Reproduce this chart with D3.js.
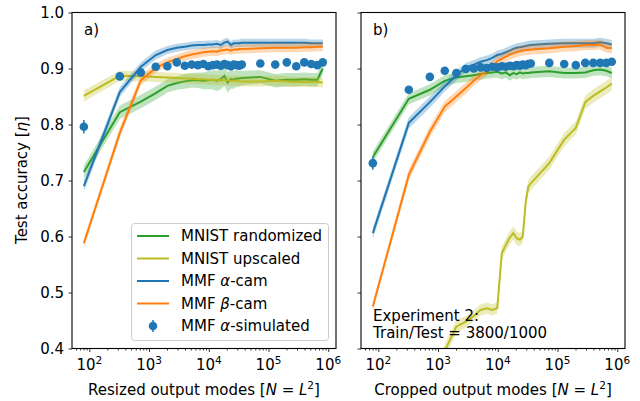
<!DOCTYPE html>
<html><head><meta charset="utf-8">
<script src="https://cdn.jsdelivr.net/npm/d3@7"></script>
<style>body{margin:0;background:#fff} text{font-family:"DejaVu Sans",sans-serif;fill:#000}</style>
</head><body><svg id="c" width="640" height="401"></svg>
<script>
// ---- data ----
const Lside = [9,18,27,36,45,54,63,72,81,90,99,108,117,126,135,144,153,162,171,180,189,270,360,450,540,630,720,810,900];
const modes = Lside.map(l => l * l);
const seriesNames = ["MNIST randomized", "MNIST upscaled", "MMF α-cam", "MMF β-cam", "MMF α-simulated"];

// Panel a (resized)
const aGreen  = [0.715,0.822,0.841,0.856,0.869,0.874,0.877,0.879,0.879,0.878,0.879,0.880,0.878,0.881,0.887,0.875,0.881,0.880,0.882,0.882,0.883,0.885,0.878,0.880,0.880,0.881,0.880,0.880,0.900];
const aGreenS = [0.012,0.012,0.012,0.012,0.012,0.012,0.013,0.013,0.014,0.015,0.016,0.017,0.018,0.018,0.018,0.018,0.017,0.016,0.015,0.014,0.013,0.012,0.012,0.012,0.012,0.012,0.012,0.012,0.010];
const aYellow  = [0.851,0.887,0.886,0.885,0.884,0.883,0.882,0.882,0.881,0.881,0.880,0.880,0.879,0.879,0.879,0.879,0.878,0.878,0.878,0.877,0.877,0.877,0.878,0.877,0.876,0.876,0.876,0.876,0.875];
const aYellowS = [0.010,0.009,0.009,0.009,0.009,0.009,0.009,0.009,0.009,0.009,0.009,0.009,0.009,0.009,0.009,0.009,0.009,0.009,0.009,0.009,0.009,0.009,0.009,0.009,0.009,0.009,0.009,0.009,0.009];
const aBlue  = [0.690,0.858,0.903,0.924,0.933,0.937,0.939,0.941,0.942,0.942,0.943,0.943,0.944,0.942,0.946,0.948,0.942,0.945,0.945,0.945,0.946,0.946,0.946,0.946,0.946,0.946,0.945,0.945,0.945];
const aBlueS = [0.010,0.009,0.008,0.008,0.007,0.007,0.007,0.007,0.007,0.007,0.007,0.007,0.007,0.007,0.007,0.007,0.007,0.007,0.007,0.007,0.007,0.007,0.007,0.007,0.007,0.007,0.007,0.007,0.007];
const aOrange  = [0.588,0.785,0.879,0.901,0.911,0.917,0.922,0.925,0.927,0.929,0.930,0.931,0.930,0.932,0.933,0.934,0.932,0.934,0.934,0.935,0.935,0.936,0.937,0.937,0.937,0.938,0.938,0.939,0.939];
const aOrangeS = [0.008,0.009,0.009,0.008,0.008,0.008,0.008,0.008,0.008,0.008,0.008,0.008,0.008,0.008,0.008,0.008,0.008,0.008,0.008,0.008,0.008,0.008,0.008,0.008,0.008,0.008,0.008,0.008,0.008];
const aSim  = [0.796,0.886,0.893,0.903,0.904,0.911,0.905,0.907,0.906,0.908,0.904,0.906,0.907,0.905,0.908,0.906,0.904,0.907,0.906,0.905,0.907,0.909,0.907,0.911,0.904,0.911,0.908,0.906,0.911];
const aSimE = [0.012,0.004,0.004,0.004,0.004,0.004,0.004,0.004,0.004,0.004,0.004,0.004,0.004,0.004,0.004,0.004,0.004,0.004,0.004,0.004,0.004,0.004,0.004,0.004,0.004,0.004,0.004,0.004,0.004];

// Panel b (cropped)
const bGreen  = [0.742,0.846,0.862,0.878,0.884,0.886,0.888,0.890,0.892,0.893,0.894,0.891,0.893,0.888,0.892,0.890,0.893,0.891,0.892,0.892,0.893,0.895,0.892,0.892,0.893,0.897,0.898,0.896,0.892];
const bGreenS = [0.010,0.010,0.010,0.010,0.010,0.010,0.010,0.010,0.010,0.010,0.010,0.010,0.010,0.010,0.010,0.010,0.010,0.010,0.010,0.010,0.010,0.010,0.010,0.010,0.010,0.010,0.010,0.010,0.010];
const bYellow  = [0.120,0.220,0.330,0.396,0.439,0.448,0.458,0.469,0.472,0.469,0.472,0.570,0.585,0.598,0.606,0.597,0.594,0.600,0.660,0.689,0.695,0.731,0.773,0.794,0.840,0.851,0.859,0.866,0.873];
const bYellowS = [0.012,0.012,0.012,0.012,0.012,0.010,0.010,0.010,0.010,0.010,0.010,0.012,0.012,0.012,0.012,0.012,0.012,0.012,0.012,0.012,0.012,0.012,0.012,0.012,0.012,0.012,0.012,0.012,0.012];
const bBlue  = [0.606,0.803,0.840,0.868,0.888,0.902,0.907,0.912,0.915,0.919,0.924,0.926,0.929,0.932,0.935,0.937,0.938,0.939,0.940,0.941,0.942,0.944,0.945,0.945,0.945,0.945,0.947,0.945,0.943];
const bBlueS = [0.010,0.010,0.010,0.009,0.009,0.008,0.008,0.008,0.008,0.008,0.008,0.008,0.008,0.008,0.008,0.008,0.008,0.008,0.008,0.008,0.008,0.008,0.008,0.008,0.008,0.008,0.008,0.008,0.008];
const bOrange  = [0.475,0.710,0.787,0.832,0.850,0.865,0.878,0.888,0.896,0.905,0.913,0.917,0.921,0.925,0.927,0.929,0.931,0.932,0.933,0.933,0.934,0.936,0.939,0.940,0.942,0.942,0.943,0.937,0.936];
const bOrangeS = [0.008,0.010,0.010,0.010,0.010,0.010,0.009,0.009,0.009,0.009,0.009,0.009,0.009,0.009,0.009,0.009,0.009,0.009,0.009,0.009,0.009,0.009,0.009,0.009,0.009,0.009,0.009,0.009,0.009];
const bSim  = [0.731,0.862,0.885,0.896,0.892,0.899,0.900,0.902,0.901,0.903,0.902,0.904,0.903,0.905,0.904,0.906,0.905,0.907,0.906,0.908,0.909,0.910,0.908,0.906,0.910,0.910,0.910,0.910,0.912];
const bSimE = [0.012,0.004,0.004,0.004,0.004,0.004,0.004,0.004,0.004,0.004,0.004,0.004,0.004,0.004,0.004,0.004,0.004,0.004,0.004,0.004,0.004,0.004,0.004,0.004,0.004,0.004,0.004,0.004,0.004];

const yTicks = [0.4,0.5,0.6,0.7,0.8,0.9,1.0];
const xMajor = [1e2,1e3,1e4,1e5,1e6];
const xMajorExp = ["2","3","4","5","6"];

// ---- drawing ----
const colors = {green:"#2ca02c", yellow:"#bcbd22", blue:"#1f77b4", orange:"#ff7f0e"};
const svg = d3.select("#c");
const yTop = 12.5, yBottom = 348.5;
const y = d3.scaleLinear().domain([0.4, 1.0]).range([yBottom, yTop]);
const xDomain = [Math.pow(10,1.71), Math.pow(10,6.13)];

function panel(x0, x1, id, data, label, xlabel, showY, note) {
  const x = d3.scaleLog().domain(xDomain).range([x0, x1]);
  const g = svg.append("g");
  svg.append("clipPath").attr("id", id).append("rect")
    .attr("x", x0).attr("y", yTop).attr("width", x1 - x0).attr("height", yBottom - yTop);
  const plot = g.append("g").attr("clip-path", `url(#${id})`);
  const mk = (vals, sd) => vals.map((v, i) => ({n: modes[i], v, s: sd[i]}));
  const area = d3.area().x(d => x(d.n)).y0(d => y(d.v - d.s)).y1(d => y(d.v + d.s));
  const line = d3.line().x(d => x(d.n)).y(d => y(d.v));
  data.lines.forEach(s => {
    const pts = mk(s.v, s.s);
    plot.append("path").datum(pts).attr("d", area).attr("fill", s.c).attr("fill-opacity", 0.3).attr("stroke", "none");
    plot.append("path").datum(pts).attr("d", line).attr("fill", "none").attr("stroke", s.c).attr("stroke-width", 2);
  });
  const sim = mk(data.sim.v, data.sim.e);
  plot.selectAll(".eb").data(sim).enter().append("line")
    .attr("x1", d => x(d.n)).attr("x2", d => x(d.n))
    .attr("y1", d => y(d.v - d.s)).attr("y2", d => y(d.v + d.s))
    .attr("stroke", colors.blue).attr("stroke-width", 1.5);
  plot.selectAll(".pt").data(sim).enter().append("circle")
    .attr("cx", d => x(d.n)).attr("cy", d => y(d.v)).attr("r", 4.3).attr("fill", colors.blue);

  // axes
  const minor = [];
  for (let e = 1; e <= 6; e++) for (let m = 2; m <= 9; m++) {
    const v = m * Math.pow(10, e);
    if (v >= xDomain[0] && v <= xDomain[1]) minor.push(v);
  }
  const ax = g.append("g").attr("transform", `translate(0,${yBottom})`);
  ax.call(d3.axisBottom(x).tickValues(xMajor).tickSize(3.5).tickFormat(""));
  ax.append("g").call(d3.axisBottom(x).tickValues(minor).tickSize(2).tickFormat(""));
  ax.selectAll(".domain").remove();
  ax.selectAll("line").attr("stroke", "#000").attr("stroke-width", 0.8);
  xMajor.forEach((v, i) => {
    const t = g.append("text").attr("x", x(v)).attr("y", 370).attr("text-anchor", "middle").attr("font-size", 15);
    t.append("tspan").text("10");
    t.append("tspan").attr("dy", -6).attr("font-size", 10.5).text(xMajorExp[i]);
  });
  const ay = g.append("g").attr("transform", `translate(${x0},0)`);
  ay.call(d3.axisLeft(y).tickValues(yTicks).tickSize(3.5).tickFormat(""));
  ay.selectAll(".domain").remove();
  ay.selectAll("line").attr("stroke", "#000").attr("stroke-width", 0.8);
  if (showY) {
    yTicks.forEach(v => {
      g.append("text").attr("x", x0 - 8).attr("y", y(v) + 5.3).attr("text-anchor", "end").attr("font-size", 15).text(d3.format(".1f")(v));
    });
  }
  g.append("rect").attr("x", x0).attr("y", yTop).attr("width", x1 - x0).attr("height", yBottom - yTop)
    .attr("fill", "none").attr("stroke", "#000").attr("stroke-width", 1.1);
  g.append("text").attr("x", x0 + 12).attr("y", 35).attr("font-size", 15).text(label);
  const xl = g.append("text").attr("x", (x0 + x1) / 2).attr("y", 395).attr("text-anchor", "middle").attr("font-size", 15);
  xl.append("tspan").text(xlabel + " [");
  xl.append("tspan").attr("font-style", "italic").text("N");
  xl.append("tspan").text(" = ");
  xl.append("tspan").attr("font-style", "italic").text("L");
  xl.append("tspan").attr("dy", -6).attr("font-size", 10.5).text("2");
  xl.append("tspan").attr("dy", 6).text("]");
  if (note) {
    note.forEach((s, i) => g.append("text").attr("x", x0 + 12).attr("y", 321 + i * 16.7).attr("font-size", 15).text(s));
  }
  return x;
}

panel(72, 336, "clipA", {
  lines: [
    {v: aGreen, s: aGreenS, c: colors.green},
    {v: aYellow, s: aYellowS, c: colors.yellow},
    {v: aBlue, s: aBlueS, c: colors.blue},
    {v: aOrange, s: aOrangeS, c: colors.orange}],
  sim: {v: aSim, e: aSimE}
}, "a)", "Resized output modes", true, null);

panel(361, 625, "clipB", {
  lines: [
    {v: bGreen, s: bGreenS, c: colors.green},
    {v: bYellow, s: bYellowS, c: colors.yellow},
    {v: bBlue, s: bBlueS, c: colors.blue},
    {v: bOrange, s: bOrangeS, c: colors.orange}],
  sim: {v: bSim, e: bSimE}
}, "b)", "Cropped output modes", false, ["Experiment 2:", "Train/Test = 3800/1000"]);

// y label
const yl = svg.append("text").attr("transform", "translate(27,180) rotate(-90)").attr("text-anchor", "middle").attr("font-size", 15);
yl.append("tspan").text("Test accuracy [");
yl.append("tspan").attr("font-style", "italic").text("η");
yl.append("tspan").text("]");

// legend
const lg = svg.append("g");
lg.append("rect").attr("x", 131.5).attr("y", 223.5).attr("width", 197).attr("height", 117).attr("rx", 3)
  .attr("fill", "#fff").attr("fill-opacity", 0.8).attr("stroke", "#ccc").attr("stroke-width", 1);
const legendColors = [colors.green, colors.yellow, colors.blue, colors.orange, colors.blue];
seriesNames.forEach((name, i) => {
  const yy = 236 + i * 22.5;
  if (i < 4) {
    lg.append("line").attr("x1", 137).attr("x2", 169).attr("y1", yy).attr("y2", yy).attr("stroke", legendColors[i]).attr("stroke-width", 2);
  } else {
    lg.append("line").attr("x1", 153).attr("x2", 153).attr("y1", yy - 6).attr("y2", yy + 6).attr("stroke", colors.blue).attr("stroke-width", 1.5);
    lg.append("circle").attr("cx", 153).attr("cy", yy).attr("r", 4.3).attr("fill", colors.blue);
  }
  const t = lg.append("text").attr("x", 181).attr("y", yy + 5.3).attr("font-size", 15);
  const m = name.match(/^(.*?)([αβ])(.*)$/);
  if (m) {
    t.append("tspan").text(m[1]);
    t.append("tspan").attr("font-style", "italic").text(m[2]);
    t.append("tspan").text(m[3]);
  } else t.text(name);
});
</script>
</body></html>
